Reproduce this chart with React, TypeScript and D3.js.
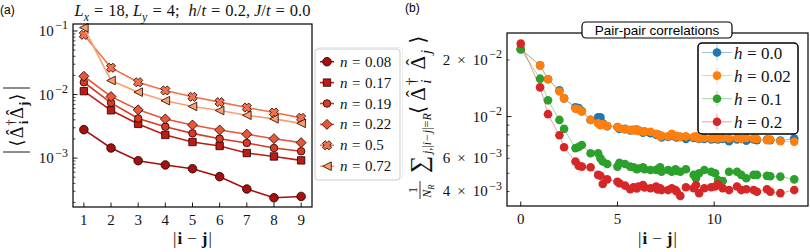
import React from 'react';
import * as d3 from 'd3';

// ---------------- Panel (a) data ----------------
const sepA = [1, 2, 3, 4, 5, 6, 7, 8, 9];
const fillingLabels = ['0.08', '0.17', '0.19', '0.22', '0.5', '0.72'];
const corrN008 = [2.8e-3, 1.44e-3, 9.1e-4, 7.8e-4, 6.8e-4, 5.1e-4, 3.26e-4, 2.37e-4, 2.49e-4];
const corrN017 = [1.13e-2, 5.65e-3, 3.45e-3, 2.31e-3, 1.79e-3, 1.55e-3, 1.2e-3, 1.06e-3, 9.2e-4];
const corrN019 = [1.56e-2, 7.4e-3, 4.2e-3, 3.12e-3, 2.45e-3, 2.02e-3, 1.73e-3, 1.44e-3, 1.28e-3];
const corrN022 = [1.94e-2, 9.3e-3, 5.74e-3, 4.13e-3, 3.32e-3, 2.77e-3, 2.37e-3, 2.02e-3, 1.75e-3];
const corrN050 = [8.7e-2, 2.64e-2, 1.56e-2, 1.16e-2, 9.2e-3, 7.6e-3, 6.24e-3, 5.2e-3, 4.29e-3];
const corrN072 = [0.113, 1.66e-2, 1.09e-2, 8.0e-3, 6.5e-3, 5.6e-3, 4.72e-3, 4.14e-3, 3.52e-3];
const seriesA = [corrN008, corrN017, corrN019, corrN022, corrN050, corrN072];

// ---------------- Panel (b) data ----------------
const sepB = [0, 1, 1.41, 2, 2.24, 2.83, 3, 3.16, 3.61, 4, 4.12, 4.24, 4.47, 5, 5.1, 5.39, 5.66, 5.83, 6, 6.08,
  6.32, 6.4, 6.71, 7, 7.07, 7.21, 7.28, 7.62, 7.81, 8, 8.06, 8.25, 8.54, 8.94, 9.06, 9.22, 9.49, 9.85, 10.05,
  10.2, 10.44, 10.77, 11.18, 11.4, 11.66, 12.04, 12.21, 12.73, 12.9, 13.42, 14.14];
const fieldLabels = ['0.0', '0.02', '0.1', '0.2'];
const pairH000 = [2.28e-2, 1.87e-2, 1.58e-2, 1.38e-2, 1.25e-2, 1.12e-2, 1.11e-2, 1.07e-2, 9.6e-3, 9.9e-3, 9.9e-3,
  9.2e-3, 8.9e-3, 8.8e-3, 8.6e-3, 8.6e-3, 8.45e-3, 8.5e-3, 8.5e-3, 8.45e-3, 8.2e-3, 8.3e-3, 8.15e-3, 8.0e-3, 8.05e-3,
  7.9e-3, 7.75e-3, 7.8e-3, 7.95e-3, 7.8e-3, 7.75e-3, 7.8e-3, 7.6e-3, 7.7e-3, 7.75e-3, 7.6e-3, 7.6e-3, 7.55e-3, 7.6e-3,
  7.55e-3, 7.6e-3, 7.4e-3, 7.55e-3, 7.6e-3, 7.45e-3, 7.55e-3, 7.5e-3, 7.55e-3, 7.5e-3, 7.45e-3, 7.65e-3];
const pairH002 = [2.28e-2, 1.87e-2, 1.58e-2, 1.36e-2, 1.25e-2, 1.1e-2, 1.09e-2, 1.06e-2, 9.6e-3, 9.2e-3, 9.0e-3,
  9.1e-3, 8.9e-3, 8.8e-3, 8.7e-3, 8.55e-3, 8.5e-3, 8.45e-3, 8.55e-3, 8.4e-3, 8.3e-3, 8.35e-3, 8.3e-3, 8.1e-3, 8.05e-3,
  7.85e-3, 7.9e-3, 7.85e-3, 8.1e-3, 7.85e-3, 7.9e-3, 7.8e-3, 7.85e-3, 7.8e-3, 7.85e-3, 7.65e-3, 7.7e-3, 7.65e-3, 7.7e-3,
  7.65e-3, 7.7e-3, 7.65e-3, 7.7e-3, 7.6e-3, 7.7e-3, 7.65e-3, 7.6e-3, 7.5e-3, 7.55e-3, 7.4e-3, 7.35e-3];
const pairH010 = [2.28e-2, 1.59e-2, 1.22e-2, 9.6e-3, 8.6e-3, 6.8e-3, 6.9e-3, 7.06e-3, 6.38e-3, 6.38e-3, 6.0e-3,
  5.77e-3, 5.6e-3, 5.42e-3, 5.69e-3, 5.6e-3, 5.42e-3, 5.38e-3, 5.25e-3, 5.3e-3, 5.38e-3, 5.25e-3, 5.2e-3, 5.2e-3, 5.25e-3,
  5.38e-3, 5.09e-3, 5.2e-3, 5.1e-3, 5.25e-3, 5.15e-3, 5.09e-3, 5.25e-3, 4.9e-3, 4.7e-3, 5.0e-3, 5.2e-3, 5.09e-3, 5.0e-3,
  4.6e-3, 4.55e-3, 5.09e-3, 5.09e-3, 4.9e-3, 4.7e-3, 4.9e-3, 4.9e-3, 4.84e-3, 4.82e-3, 4.8e-3, 4.64e-3];
const pairH020 = [2.44e-2, 1.43e-2, 1.03e-2, 7.96e-3, 6.87e-3, 5.77e-3, 5.47e-3, 5.42e-3, 5.38e-3, 4.9e-3, 4.85e-3,
  4.38e-3, 4.64e-3, 4.51e-3, 4.42e-3, 4.3e-3, 4.11e-3, 4.21e-3, 4.15e-3, 4.25e-3, 4.33e-3, 4.2e-3, 4.16e-3, 4.25e-3, 4.1e-3,
  4.16e-3, 4.07e-3, 4.07e-3, 4.16e-3, 4.07e-3, 4.0e-3, 3.79e-3, 4.21e-3, 4.16e-3, 4.33e-3, 3.92e-3, 4.16e-3, 4.21e-3, 4.25e-3,
  4.37e-3, 4.16e-3, 4.07e-3, 4.25e-3, 4.07e-3, 4.11e-3, 4.07e-3, 3.99e-3, 4.11e-3, 3.99e-3, 3.92e-3, 4.07e-3];
const seriesB = [pairH000, pairH002, pairH010, pairH020];

// ---------------- Ticks ----------------
const xTicksA = [1, 2, 3, 4, 5, 6, 7, 8, 9];
const yMajorA = [1e-1, 1e-2, 1e-3];
const yMajorAExp = ['−1', '−2', '−3'];
const xTicksB = [0, 5, 10];
const yTicksB = [2e-2, 1e-2, 6e-3, 4e-3];
const yTicksBMant = ['2', '', '6', '4'];
const yTicksBExp = ['−2', '−2', '−3', '−3'];

// ---------------- Styles ----------------
const colorsA = ['#a50f0f', '#bf1a14', '#d83a26', '#e95638', '#f2714b', '#fb9f6c'];
const markersA = ['o', 's', 'o2', 'D', 'X', '<'];
const colorsB = ['#1f77b4', '#ff7f0e', '#2ca02c', '#d62728'];
const SERIF = '"Liberation Serif", "DejaVu Serif", serif';
const SANS = '"Liberation Sans", Arial, sans-serif';

function markerPath(kind: string): string {
  const circ = (r: number) => `M${-r},0a${r},${r} 0 1,0 ${2 * r},0a${r},${r} 0 1,0 ${-2 * r},0Z`;
  switch (kind) {
    case 'o': return circ(4.3);
    case 'o2': return circ(3.8);
    case 's': { const a = 3.7; return `M${-a},${-a}H${a}V${a}H${-a}Z`; }
    case 'D': { const a = 5; return `M0,${-a}L${a},0L0,${a}L${-a},0Z`; }
    case '<': { const a = 4.3; return `M${-a},0L${a},${-a}L${a},${a}Z`; }
    case 'X': {
      const a = 4.6, w = 1.9;
      const pts = [[w, a], [w, w], [a, w], [a, -w], [w, -w], [w, -a], [-w, -a], [-w, -w], [-a, -w], [-a, w], [-w, w], [-w, a]];
      const c = Math.SQRT1_2;
      return 'M' + pts.map(([x, y]) => `${(x - y) * c},${(x + y) * c}`).join('L') + 'Z';
    }
  }
  return '';
}

type Seg = { t: string; it?: boolean; b?: boolean; sub?: boolean; sup?: boolean; dx?: number; hat?: boolean };
function mathSpans(segs: Seg[], fs: number) {
  let cur = 0;
  let carry = 0;
  const out: React.ReactNode[] = [];
  segs.forEach((s, k) => {
    const target = s.sub ? 0.3 * fs : s.sup ? -0.42 * fs : 0;
    const dy = target - cur;
    cur = target;
    const size = (s.sub || s.sup) ? fs * 0.72 : fs;
    out.push(
      <tspan key={k} dy={dy} dx={(s.dx ?? 0) + carry} fontStyle={s.it ? 'italic' : 'normal'}
        fontWeight={s.b ? 'bold' : 'normal'} fontSize={size}>{s.t}</tspan>
    );
    carry = 0;
    if (s.hat) {
      const lift = -0.2 * size;
      out.push(<tspan key={k + 'h'} dy={lift} dx={-0.47 * size} fontSize={size} fontStyle="normal">ˆ</tspan>);
      cur += lift;
      carry = 0.14 * size;
    }
  });
  return out;
}
const eqSegs = (v: string, name: string): Seg[] => [
  { t: name, it: true }, { t: '=', dx: 4.5 }, { t: v, dx: 4.5 },
];

export default function App() {
  // Panel (a) geometry
  const xA = d3.scaleLinear().domain([0.6, 9.4]).range([73, 312]);
  const yA = d3.scaleLog().domain([10 ** -3.77, 10 ** -0.89]).range([207, 24]);
  // Panel (b) geometry
  const xB = d3.scaleLinear().domain([-0.71, 14.85]).range([507, 808]);
  const yB = d3.scaleLog().domain([10 ** -2.475, 10 ** -1.556]).range([206, 33]);

  const lineA = d3.line<number>().x((_, i) => xA(sepA[i])).y((d) => yA(d));
  const lineB = d3.line<number>().x((_, i) => xB(sepB[i])).y((d) => yB(d));

  const [ya0, ya1] = yA.domain();
  const minorA: number[] = [];
  for (let e = -4; e <= 0; e++) for (let m = 2; m <= 9; m++) {
    const v = m * 10 ** e; if (v >= ya0 && v <= ya1) minorA.push(v);
  }
  const [yb0, yb1] = yB.domain();
  const minorB: number[] = [];
  for (let e = -3; e <= -2; e++) for (let m = 2; m <= 9; m++) {
    const v = m * 10 ** e; if (v >= yb0 && v <= yb1) minorB.push(v);
  }

  const ijLabel: Seg[] = [{ t: '|' }, { t: 'i', b: true, dx: 1 }, { t: '−', dx: 5 }, { t: 'j', b: true, dx: 5 }, { t: '|', dx: 1 }];
  const fill = '#111';

  return (
    <svg width={810} height={252} viewBox="0 0 810 252" style={{ display: 'block', position: 'absolute', left: 0, top: 0 }}>
      <rect x={0} y={0} width={810} height={252} fill="#fff" />
      {/* ---------- Panel (a) ---------- */}
      <text x={0} y={14} fontFamily={SANS} fontSize={12}>(a)</text>
      <text x={192.5} y={16} textAnchor="middle" fontFamily={SERIF} fontSize={16.5} fill={fill}>
        {mathSpans([
          { t: 'L', it: true }, { t: 'x', it: true, sub: true }, { t: '=', dx: 5 }, { t: '18,', dx: 5 },
          { t: 'L', it: true, dx: 4 }, { t: 'y', it: true, sub: true }, { t: '=', dx: 5 }, { t: '4;', dx: 5 },
          { t: 'h', it: true, dx: 9 }, { t: '/' }, { t: 't', it: true }, { t: '=', dx: 5 }, { t: '0.2,', dx: 5 },
          { t: 'J', it: true, dx: 4 }, { t: '/' }, { t: 't', it: true }, { t: '=', dx: 5 }, { t: '0.0', dx: 5 },
        ], 16.5)}
      </text>
      {/* data */}
      {seriesA.map((s, k) => (
        <g key={k}>
          <path d={lineA(s) ?? ''} fill="none" stroke={colorsA[k]} strokeWidth={1.6} />
          {s.map((v, i) => (
            <path key={i} d={markerPath(markersA[k])} transform={`translate(${xA(sepA[i])},${yA(v)})`}
              fill={colorsA[k]} stroke="#1a0000" strokeWidth={0.8} />
          ))}
        </g>
      ))}
      {/* axes frame */}
      <rect x={73} y={24} width={239} height={183} fill="none" stroke="#000" strokeWidth={1.2} />
      {xTicksA.map((t) => (
        <g key={t}>
          <line x1={xA(t)} x2={xA(t)} y1={207} y2={202.5} stroke="#000" strokeWidth={0.9} />
          <text x={xA(t)} y={225} textAnchor="middle" fontFamily={SERIF} fontSize={15} fill={fill}>{t}</text>
        </g>
      ))}
      {minorA.map((v, i) => (
        <line key={i} x1={73} x2={75.5} y1={yA(v)} y2={yA(v)} stroke="#000" strokeWidth={0.7} />
      ))}
      {yMajorA.map((v, i) => (
        <g key={i}>
          <line x1={73} x2={77.5} y1={yA(v)} y2={yA(v)} stroke="#000" strokeWidth={0.9} />
          <text x={68} y={yA(v) + 5} textAnchor="end" fontFamily={SERIF} fontSize={15} fill={fill}>
            10<tspan dy={-6.5} fontSize={12} dx={1.5}>{yMajorAExp[i]}</tspan>
          </text>
        </g>
      ))}
      <text x={192.5} y={244} textAnchor="middle" fontFamily={SERIF} fontSize={17} fill={fill}>{mathSpans(ijLabel, 17)}</text>
      <g transform="translate(18,120) rotate(-90)">
        <line x1={-32} x2={-32} y1={-15} y2={12} stroke="#000" strokeWidth={0.9} />
        <line x1={32} x2={32} y1={-15} y2={12} stroke="#000" strokeWidth={0.9} />
        <text x={0} y={5} textAnchor="middle" fontFamily={SERIF} fontSize={18} fill={fill}>
          {mathSpans([{ t: '⟨' }, { t: 'Δ', dx: 1, hat: true }, { t: '†', sup: true, dx: 1 }, { t: 'i', sub: true, b: true, dx: -5 },
            { t: 'Δ', dx: 2, hat: true }, { t: 'j', sub: true, b: true, dx: 1 }, { t: '⟩', dx: 1 }], 18)}
        </text>
      </g>
      {/* legend (a) */}
      <rect x={316.5} y={47.5} width={86} height={131} rx={3} fill="none" stroke="#ececec" strokeWidth={1} />
      <rect x={315} y={49} width={85} height={131} rx={3} fill="#fff" fillOpacity={0.85} stroke="#cccccc" strokeWidth={1} />
      {fillingLabels.map((lab, k) => {
        const y = 61.7 + k * 20.9;
        return (
          <g key={k}>
            <line x1={320} x2={334} y1={y} y2={y} stroke={colorsA[k]} strokeWidth={1.6} />
            <path d={markerPath(markersA[k])} transform={`translate(327,${y})`} fill={colorsA[k]} stroke="#1a0000" strokeWidth={0.8} />
            <text x={340} y={y + 5} fontFamily={SERIF} fontSize={15} fill={fill}>{mathSpans(eqSegs(lab, 'n'), 15)}</text>
          </g>
        );
      })}

      {/* ---------- Panel (b) ---------- */}
      <text x={405} y={12} fontFamily={SANS} fontSize={12}>(b)</text>
      {seriesB.map((s, k) => (
        <g key={k}>
          <path d={lineB(s) ?? ''} fill="none" stroke={colorsB[k]} strokeWidth={0.8} strokeOpacity={0.55} />
          {s.map((v, i) => (
            <circle key={i} cx={xB(sepB[i])} cy={yB(v)} r={4.3} fill={colorsB[k]} />
          ))}
        </g>
      ))}
      <rect x={507} y={33} width={301} height={173} fill="none" stroke="#000" strokeWidth={1.2} />
      {xTicksB.map((t) => (
        <g key={t}>
          <line x1={xB(t)} x2={xB(t)} y1={206} y2={201.5} stroke="#000" strokeWidth={0.9} />
          <text x={xB(t)} y={224} textAnchor="middle" fontFamily={SERIF} fontSize={15} fill={fill}>{t}</text>
        </g>
      ))}
      {minorB.map((v, i) => (
        <line key={i} x1={507} x2={509.5} y1={yB(v)} y2={yB(v)} stroke="#000" strokeWidth={0.7} />
      ))}
      <line x1={507} x2={511.5} y1={yB(1e-2)} y2={yB(1e-2)} stroke="#000" strokeWidth={0.9} />
      {yTicksB.map((v, i) => (
        <text key={i} x={502} y={yB(v) + 5} textAnchor="end" fontFamily={SERIF} fontSize={15} fill={fill}>
          {yTicksBMant[i] ? <tspan>{yTicksBMant[i]}</tspan> : null}
          {yTicksBMant[i] ? <tspan dx={7}>×</tspan> : null}
          <tspan dx={yTicksBMant[i] ? 7 : 0}>10</tspan>
          <tspan dy={-6.5} fontSize={12} dx={1.5}>{yTicksBExp[i]}</tspan>
        </text>
      ))}
      <text x={657.5} y={244} textAnchor="middle" fontFamily={SERIF} fontSize={17} fill={fill}>{mathSpans(ijLabel, 17)}</text>
      <g transform="translate(420,120) rotate(-90)" fontFamily={SERIF} fill={fill}>
        <text x={-70} y={-3} textAnchor="middle" fontSize={12}>1</text>
        <line x1={-79} x2={-61} y1={0} y2={0} stroke="#000" strokeWidth={0.8} />
        <text x={-71} y={10.5} textAnchor="middle" fontSize={12}>
          {mathSpans([{ t: 'N', it: true }, { t: 'R', it: true, sub: true }], 12)}
        </text>
        <text x={-53} y={7} fontSize={24}>∑</text>
        <text x={-34} y={11} fontSize={12}>
          {mathSpans([{ t: 'j', it: true }, { t: ',|' }, { t: 'i', it: true }, { t: '−', dx: 1 }, { t: 'j', it: true, dx: 1 },
            { t: '|=' }, { t: 'R', it: true }], 12)}
        </text>
        <text x={6} y={5} fontSize={21}>
          {mathSpans([{ t: '⟨' }, { t: 'Δ', dx: 5, hat: true }, { t: '†', sup: true, dx: 2 }, { t: 'i', it: true, sub: true, dx: -6 },
            { t: 'Δ', dx: 10, hat: true }, { t: 'j', it: true, sub: true, dx: 2 }, { t: '⟩', dx: 6 }], 21)}
        </text>
      </g>
      {/* title box */}
      <rect x={582} y={22} width={150} height={16} rx={4} fill="#fff" stroke="#000" strokeWidth={1.2} />
      <text x={657} y={34.5} textAnchor="middle" fontFamily={SANS} fontSize={13.5}>Pair-pair correlations</text>
      {/* legend (b) */}
      <rect x={698} y={43} width={100} height={91} rx={4} fill="#fff" stroke="#000" strokeWidth={1.5} />
      {fieldLabels.map((lab, k) => {
        const y = 52.5 + k * 23.1;
        return (
          <g key={k}>
            <line x1={702} x2={732} y1={y} y2={y} stroke={colorsB[k]} strokeWidth={0.8} strokeOpacity={0.55} />
            <line x1={717} x2={717} y1={y - 8} y2={y + 8} stroke={colorsB[k]} strokeWidth={0.8} strokeOpacity={0.55} />
            <circle cx={717} cy={y} r={4.3} fill={colorsB[k]} />
            <text x={734} y={y + 6} fontFamily={SERIF} fontSize={17} fill={fill}>{mathSpans(eqSegs(lab, 'h'), 17)}</text>
          </g>
        );
      })}
    </svg>
  );
}
